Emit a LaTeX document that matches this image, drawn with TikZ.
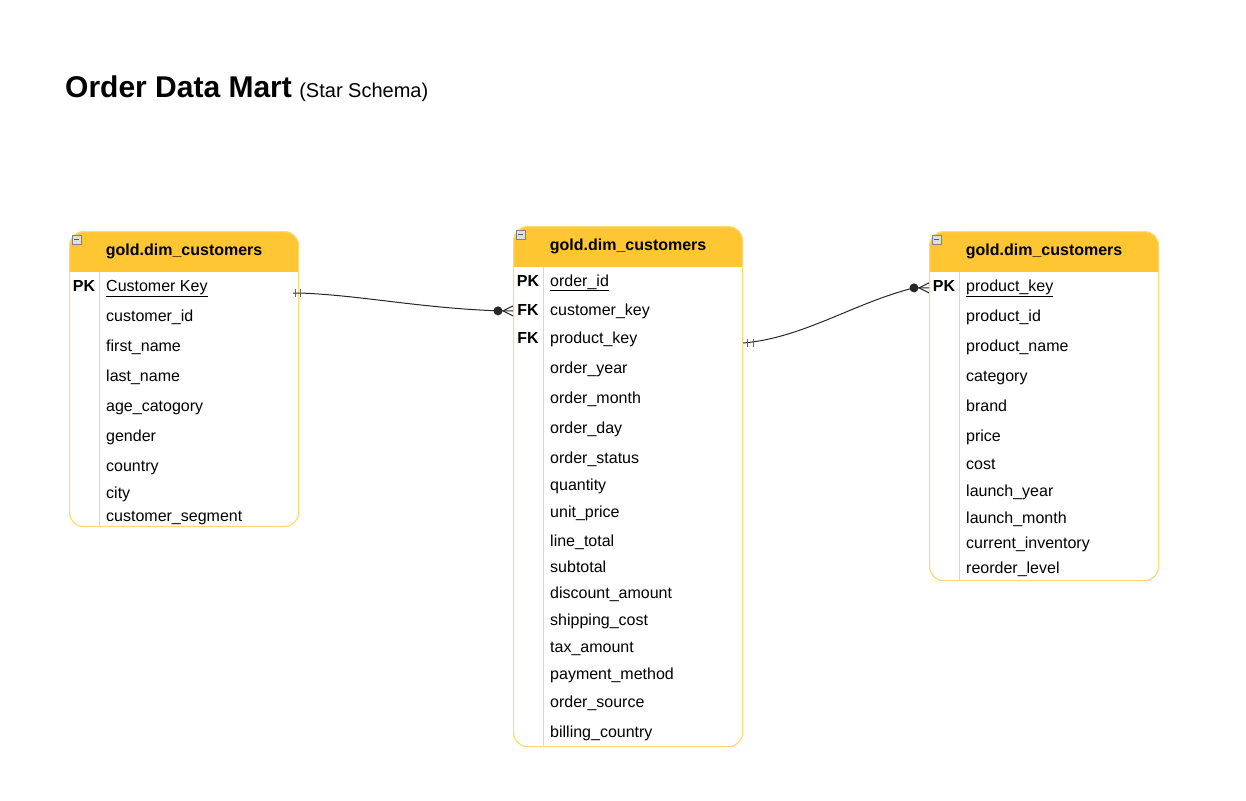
\documentclass[tikz,border=0pt]{standalone}
\usepackage{fontspec}
\setmainfont{Liberation Sans}
\usetikzlibrary{calc}
\definecolor{hdrfill}{RGB}{255,198,52}
\definecolor{tblline}{RGB}{255,217,120}
\tikzset{
entity/.style={draw=tblline, line width=1.2pt, rounded corners=14pt, anchor=north west,
  minimum width=229pt, inner sep=0pt,
  path picture={
    % yellow title band and the key column rule
    \fill[hdrfill, sharp corners] (path picture bounding box.north west) rectangle ([yshift=-40pt]path picture bounding box.north east);
    \draw[tblline, line width=1.2pt, sharp corners] ([xshift=30pt,yshift=-40pt]path picture bounding box.north west) -- ([xshift=30pt]path picture bounding box.south west);
  }}, % the table box
hdr/.style={font=\fontsize{16}{19}\selectfont\bfseries, inner sep=0pt}, % table title
fld/.style={anchor=base west, font=\fontsize{16}{19}\selectfont, inner sep=0pt}, % column name
keycol/.style={anchor=base, font=\fontsize{16}{19}\selectfont\bfseries, inner sep=0pt}, % PK / FK
icon/.style={draw=gray, fill=gray!25, line width=.8pt}, % collapse box
link/.style={draw=black!85, line width=1pt}, % relation line
}
\begin{document}
\begin{tikzpicture}[x=1pt, y=-1pt]
\useasboundingbox (0,0) rectangle (1246,800);

\node[anchor=base west, inner sep=0pt, font=\fontsize{30}{36}\selectfont\bfseries] (title) at (65,97) {Order Data Mart};
\node[anchor=base west, inner sep=0pt, font=\fontsize{20}{24}\selectfont] (subtitle) at ([xshift=7pt]title.base east) {(Star Schema)};

% customers
\node[entity, minimum height=295pt] (cust) at (69,231) {};
\draw[icon] ([shift={(3,4)}]cust.north west) rectangle ++(9,9);
\draw[gray!70!black] ([shift={(5,8.5)}]cust.north west) -- ++(5,0);
\node[hdr] (cust_hd) at ([yshift=-20pt]cust.north) {gold.dim\_customers};
\node[keycol] (cust_pk) at (84,291) {PK};
\node[fld] (cust_key) at (106,291) {\underline{Customer Key}};
\node[fld] (cust_id) at (106,321) {customer\_id};
\node[fld] (cust_first) at (106,351) {first\_name};
\node[fld] (cust_last) at (106,381) {last\_name};
\node[fld] (cust_age) at (106,411) {age\_catogory};
\node[fld] (cust_gender) at (106,441) {gender};
\node[fld] (cust_country) at (106,471) {country};
\node[fld] (cust_city) at (106,498) {city};
\node[fld] (cust_seg) at (106,521) {customer\_segment};

% orders
\node[entity, minimum height=520pt] (ord) at (513,226) {};
\draw[icon] ([shift={(3,4)}]ord.north west) rectangle ++(9,9);
\draw[gray!70!black] ([shift={(5,8.5)}]ord.north west) -- ++(5,0);
\node[hdr] (ord_hd) at ([yshift=-20pt]ord.north) {gold.dim\_customers};
\node[keycol] (ord_pk) at (528,286) {PK};
\node[keycol] (ord_fk1) at (528,315) {FK};
\node[keycol] (ord_fk2) at (528,343) {FK};
\node[fld] (ord_id) at (550,286) {\underline{order\_id}};
\node[fld] (ord_cust) at (550,315) {customer\_key};
\node[fld] (ord_prod) at (550,343) {product\_key};
\node[fld] (ord_year) at (550,373) {order\_year};
\node[fld] (ord_month) at (550,403) {order\_month};
\node[fld] (ord_day) at (550,433) {order\_day};
\node[fld] (ord_status) at (550,463) {order\_status};
\node[fld] (ord_qty) at (550,490) {quantity};
\node[fld] (ord_price) at (550,517) {unit\_price};
\node[fld] (ord_line) at (550,546) {line\_total};
\node[fld] (ord_sub) at (550,572) {subtotal};
\node[fld] (ord_disc) at (550,598) {discount\_amount};
\node[fld] (ord_ship) at (550,625) {shipping\_cost};
\node[fld] (ord_tax) at (550,652) {tax\_amount};
\node[fld] (ord_pay) at (550,679) {payment\_method};
\node[fld] (ord_src) at (550,707) {order\_source};
\node[fld] (ord_bill) at (550,737) {billing\_country};

% products
\node[entity, minimum height=349pt] (prod) at (929,231) {};
\draw[icon] ([shift={(3,4)}]prod.north west) rectangle ++(9,9);
\draw[gray!70!black] ([shift={(5,8.5)}]prod.north west) -- ++(5,0);
\node[hdr] (prod_hd) at ([yshift=-20pt]prod.north) {gold.dim\_customers};
\node[keycol] (prod_pk) at (944,291) {PK};
\node[fld] (prod_key) at (966,291) {\underline{product\_key}};
\node[fld] (prod_id) at (966,321) {product\_id};
\node[fld] (prod_name) at (966,351) {product\_name};
\node[fld] (prod_cat) at (966,381) {category};
\node[fld] (prod_brand) at (966,411) {brand};
\node[fld] (prod_price) at (966,441) {price};
\node[fld] (prod_cost) at (966,469) {cost};
\node[fld] (prod_ly) at (966,496) {launch\_year};
\node[fld] (prod_lm) at (966,523) {launch\_month};
\node[fld] (prod_inv) at (966,548) {current\_inventory};
\node[fld] (prod_reo) at (966,573) {reorder\_level};

% customers 1 -- many orders
\coordinate (l_a) at ($(cust.east |- cust_key.base)+(0,2)$);
\coordinate (l_b) at (ord.west |- ord_cust);
\coordinate (l_d) at ($(l_b)+(-15,0)$);
\draw[link] ($(l_a)+(-6,0)$) -- (l_a) .. controls +(60,2) and +(-80,-3) .. (l_d) -- (l_b);
\draw[link, black!60] ($(l_a)+(-4,-4)$) -- ++(0,8) ($(l_a)+(1,-4)$) -- ++(0,8);
\fill[black!85] (l_d) circle (4.5pt);
\draw[link] ($(l_d)+(5,0)$) -- ($(l_b)+(0,-5)$) ($(l_d)+(5,0)$) -- ($(l_b)+(0,5)$);

% products 1 -- many orders
\coordinate (r_a) at (ord.east |- ord_prod.base);
\coordinate (r_b) at (prod.west |- prod_key);
\coordinate (r_d) at ($(r_b)+(-15,0)$);
\draw[link] (r_a) .. controls +(60,-5) and +(-60,15) .. (r_d) -- (r_b);
\draw[link, black!60] ($(r_a)+(4,-4)$) -- ++(0,8) ($(r_a)+(10,-4)$) -- ++(0,8);
\fill[black!85] (r_d) circle (4.5pt);
\draw[link] ($(r_d)+(5,0)$) -- ($(r_b)+(0,-5)$) ($(r_d)+(5,0)$) -- ($(r_b)+(0,5)$);
\end{tikzpicture}
\end{document}
